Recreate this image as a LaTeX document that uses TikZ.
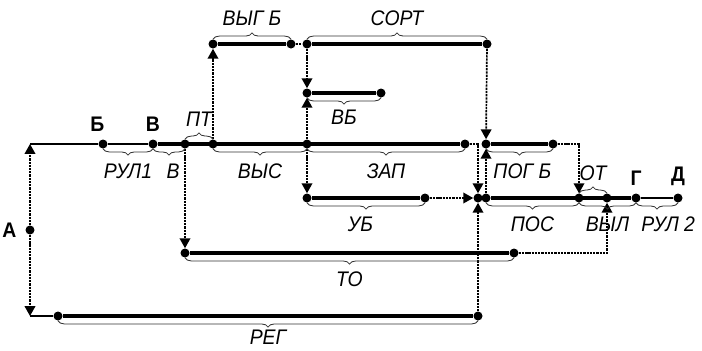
\documentclass[tikz,border=0pt]{standalone}
\usepackage{fontspec}
\setmainfont{Liberation Sans}[FakeStretch=0.92]
\usetikzlibrary{arrows.meta,positioning,decorations.pathreplacing}

\begin{document}
\begin{tikzpicture}[x=0.025cm, y=-0.025cm,
        dot/.style={circle, fill=black, inner sep=0pt, minimum size=6.4pt},
        work/.style={line width=2.4pt},
        base/.style={line width=1.2pt},
        link/.style={line width=1.2pt, dash pattern=on 1.6pt off 0.7pt},
        tip/.style={-{Triangle[length=7pt,width=7.5pt]}},
        brdn/.style={decorate, decoration={brace, mirror, amplitude=4.5pt}, line width=0.6pt, black!80},
        brup/.style={decorate, decoration={brace, amplitude=4.5pt}, line width=0.6pt, black!80},
        lbl/.style={font=\fontsize{15}{17}\selectfont\itshape, inner sep=0pt, black},
        tag/.style={font=\fontsize{15}{17}\selectfont\bfseries, inner sep=0pt}]
        \useasboundingbox (0,0) rectangle (702,350);
        \coordinate (m0) at (30,144);
        \coordinate (c0) at (30,316);
        \node [dot] (a) at (30,230) {};
        \node [dot] (b) at (103,144) {};
        \node [dot] (v) at (153,144) {};
        \node [dot] (pt) at (185,144) {};
        \node [dot] (vys) at (213,144) {};
        \node [dot] (zap) at (307,144) {};
        \node [dot] (zape) at (465,144) {};
        \node [dot] (vygb) at (213,44) {};
        \node [dot] (vygbe) at (291,44) {};
        \node [dot] (sort) at (307,44) {};
        \node [dot] (sorte) at (487,44) {};
        \node [dot] (vb) at (307,93) {};
        \node [dot] (vbe) at (381,93) {};
        \node [dot] (pog) at (486,144) {};
        \node [dot] (poge) at (553,144) {};
        \node [dot] (ub) at (307,198) {};
        \node [dot] (ube) at (425,198) {};
        \node [dot] (jn) at (478,198) {};
        \node [dot] (pos) at (486,198) {};
        \node [dot] (pose) at (579,198) {};
        \node [dot] (vyl) at (607,198) {};
        \node [dot] (g) at (636,198) {};
        \node [dot] (d) at (678,198) {};
        \node [dot] (to) at (185,253) {};
        \node [dot] (toe) at (514,253) {};
        \node [dot] (reg) at (58,316) {};
        \node [dot] (rege) at (478,316) {};

        \node [tag, left=6pt of a] (la) {А};
        \node [tag, above=5pt of b, xshift=-4pt] (lb) {Б};
        \node [tag, above=5pt of v] (lv) {В};
        \node [tag, above=5pt of g] (lg) {Г};
        \node [tag, above=5pt of d] (ld) {Д};

        \draw [base] (m0) -- (b) -- (v);
        \draw [work] (v) -- (zape);
        \draw [work] (vygb) -- (vygbe);
        \draw [link] (vygbe) -- (sort);
        \draw [work] (sort) -- (sorte);
        \draw [work] (vb) -- (vbe);
        \draw [work] (pog) -- (poge);
        \draw [work] (ub) -- (ube);
        \draw [work] (pos) -- (g);
        \draw [base] (g) -- (d);
        \draw [work] (to) -- (toe);
        \draw [base] (c0) -- (reg);
        \draw [work] (reg) -- (rege);

        \draw [link, tip] (a) -- (m0);
        \draw [link, tip] (a) -- (c0);
        \draw [link, tip] (pt) -- (to);
        \draw [link, tip] (vys) -- (vygb);
        \draw [link, tip] (sort) -- (vb);
        \draw [link, tip] (zap) -- (vb);
        \draw [link, tip] (zap) -- (ub);
        \draw [link, tip] (ube) -- (jn);
        \draw [link, tip] (zape) -| (jn);
        \draw [link, tip] (sorte) -- (pog);
        \draw [link, tip] (pos) -- (pog);
        \draw [link, tip] (rege) -- (jn);
        \draw [link, tip] (poge) -| (pose);
        \draw [link, tip] (toe) -| (vyl);

        \draw [brdn] (b.south) -- node [lbl, yshift=-16pt] {РУЛ1} (v.south);
        \draw [brdn] (v.south) -- node [lbl, yshift=-16pt, xshift=3pt] {В} (pt.south);
        \draw [brup] (pt.north) -- node [lbl, yshift=14pt] {ПТ} (vys.north);
        \draw [brdn] (vys.south) -- node [lbl, yshift=-16pt] {ВЫС} (zap.south);
        \draw [brdn] (zap.south) -- node [lbl, yshift=-16pt] {ЗАП} (zape.south);
        \draw [brup] (vygb.north) -- node [lbl, yshift=15pt] {ВЫГ Б} (vygbe.north);
        \draw [brup] (sort.north) -- node [lbl, yshift=15pt] {СОРТ} (sorte.north);
        \draw [brdn] (vb.south) -- node [lbl, yshift=-14pt] {ВБ} (vbe.south);
        \draw [brdn] (ub.south) -- node [lbl, yshift=-15pt, xshift=-4pt] {УБ} (ube.south);
        \draw [brdn] (pog.south) -- node [lbl, yshift=-16pt, xshift=2pt] {ПОГ Б} (poge.south);
        \draw [brdn] (pos.south) -- node [lbl, yshift=-15pt] {ПОС} (pose.south);
        \draw [brup] (pose.north) -- node [lbl, yshift=14pt] {ОТ} (vyl.north);
        \draw [brdn] (pose.south) -- node [lbl, yshift=-15pt] {ВЫЛ} (g.south);
        \draw [brdn] (g.south) -- node [lbl, yshift=-15pt, xshift=8pt] {РУЛ 2} (d.south);
        \draw [brdn] (to.south) -- node [lbl, yshift=-15pt] {ТО} (toe.south);
        \draw [brdn] (reg.south) -- node [lbl, yshift=-12pt] {РЕГ} (rege.south);
    \end{tikzpicture}
\end{document}
